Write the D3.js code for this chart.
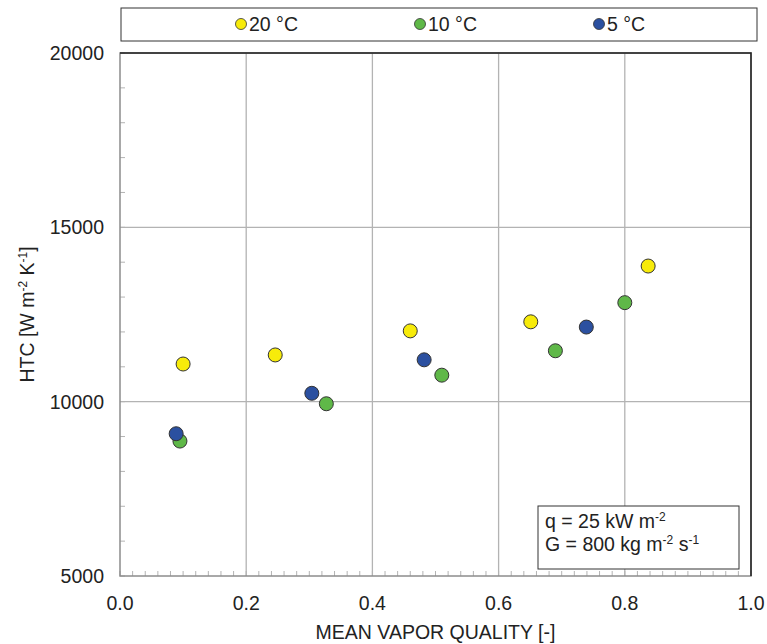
<!DOCTYPE html>
<html>
<head>
<meta charset="utf-8">
<script src="https://cdn.jsdelivr.net/npm/d3@7"></script>
<style>
  body { margin: 0; background: #fff; }
  text { font-family: "Liberation Sans", Arial, sans-serif; fill: #222; }
</style>
</head>
<body>
<div id="chart"></div>
<script>
// series
const seriesNames = ["20 °C", "10 °C", "5 °C"];
const seriesColors = ["#f7eb0a", "#5fb848", "#2b50a0"];

const x20 = [0.100, 0.246, 0.460, 0.651, 0.837];
const htc20 = [11080, 11340, 12030, 12290, 13890];

const x10 = [0.095, 0.327, 0.510, 0.690, 0.800];
const htc10 = [8870, 9940, 10760, 11460, 12840];

const x5 = [0.089, 0.304, 0.482, 0.739];
const htc5 = [9080, 10240, 11200, 12140];

const xTicks = [0, 0.2, 0.4, 0.6, 0.8, 1.0];
const yTicks = [5000, 10000, 15000, 20000];

const W = 767, H = 644;
const margin = { top: 53, right: 16, bottom: 68, left: 120 };
const width = 751 - margin.left;
const height = 576 - margin.top;
const fs = 19.5;

const svg = d3.select("#chart").append("svg")
  .attr("width", W).attr("height", H);

const x = d3.scaleLinear().domain([0, 1]).range([margin.left, margin.left + width]);
const y = d3.scaleLinear().domain([5000, 20000]).range([margin.top + height, margin.top]);

const grid = "#b3b3b3";

// grid lines
svg.append("g").selectAll("line.v")
  .data(xTicks.slice(1, -1))
  .enter().append("line")
  .attr("x1", d => x(d)).attr("x2", d => x(d))
  .attr("y1", y(20000)).attr("y2", y(5000))
  .attr("stroke", grid).attr("stroke-width", 1.3);

svg.append("g").selectAll("line.h")
  .data(yTicks.slice(1, -1))
  .enter().append("line")
  .attr("x1", x(0)).attr("x2", x(1))
  .attr("y1", d => y(d)).attr("y2", d => y(d))
  .attr("stroke", grid).attr("stroke-width", 1.3);

// minor ticks
const xMinor = d3.range(0, 1.0001, 0.02);
svg.append("g").selectAll("line")
  .data(xMinor)
  .enter().append("line")
  .attr("x1", d => x(d)).attr("x2", d => x(d))
  .attr("y1", y(5000)).attr("y2", y(5000) - 5)
  .attr("stroke", grid).attr("stroke-width", 1);

const yMinor = d3.range(5000, 20001, 1000);
svg.append("g").selectAll("line")
  .data(yMinor)
  .enter().append("line")
  .attr("x1", x(0)).attr("x2", x(0) + 5)
  .attr("y1", d => y(d)).attr("y2", d => y(d))
  .attr("stroke", grid).attr("stroke-width", 1);

// frame
svg.append("rect")
  .attr("x", x(0)).attr("y", y(20000))
  .attr("width", width).attr("height", height)
  .attr("fill", "none").attr("stroke", "#8c8c8c").attr("stroke-width", 1.5);
svg.append("path")
  .attr("d", `M${x(0)},${y(20000)}H${x(1)}V${y(5000)}`)
  .attr("fill", "none").attr("stroke", "#222").attr("stroke-width", 1.5);

// annotation box
const note = svg.append("g");
note.append("rect")
  .attr("x", 538).attr("y", 506).attr("width", 201).attr("height", 63)
  .attr("fill", "#fff").attr("stroke", "#333").attr("stroke-width", 1);
const t1 = note.append("text").attr("x", 545).attr("y", 528).attr("font-size", fs);
t1.append("tspan").text("q = 25 kW m");
t1.append("tspan").attr("baseline-shift", "super").attr("font-size", 12).text("-2");
const t2 = note.append("text").attr("x", 545).attr("y", 551).attr("font-size", fs);
t2.append("tspan").text("G = 800 kg m");
t2.append("tspan").attr("baseline-shift", "super").attr("font-size", 12).text("-2");
t2.append("tspan").text(" s");
t2.append("tspan").attr("baseline-shift", "super").attr("font-size", 12).text("-1");

// axis labels
svg.append("g").selectAll("text")
  .data(yTicks)
  .enter().append("text")
  .attr("x", 104).attr("y", d => y(d) + 7)
  .attr("text-anchor", "end").attr("font-size", fs)
  .text(d => d);

svg.append("g").selectAll("text")
  .data(xTicks)
  .enter().append("text")
  .attr("x", d => x(d)).attr("y", 610)
  .attr("text-anchor", "middle").attr("font-size", fs)
  .text(d => d3.format(".1f")(d));

svg.append("text")
  .attr("x", x(0.5)).attr("y", 639)
  .attr("text-anchor", "middle").attr("font-size", fs)
  .text("MEAN VAPOR QUALITY [-]");

const yl = svg.append("text")
  .attr("transform", `translate(34,${y(12500)}) rotate(-90)`)
  .attr("text-anchor", "middle").attr("font-size", fs);
yl.append("tspan").text("HTC [W m");
yl.append("tspan").attr("baseline-shift", "super").attr("font-size", 12).text("-2");
yl.append("tspan").text(" K");
yl.append("tspan").attr("baseline-shift", "super").attr("font-size", 12).text("-1");
yl.append("tspan").text("]");

// points
const series = [
  { xs: x20, ys: htc20 },
  { xs: x10, ys: htc10 },
  { xs: x5, ys: htc5 }
];
series.forEach((s, i) => {
  svg.append("g").selectAll("circle")
    .data(s.xs.map((v, j) => [v, s.ys[j]]))
    .enter().append("circle")
    .attr("cx", d => x(d[0])).attr("cy", d => y(d[1]))
    .attr("r", 7)
    .attr("fill", seriesColors[i])
    .attr("stroke", "#333").attr("stroke-width", 1);
});

// legend
const leg = svg.append("g");
leg.append("rect")
  .attr("x", 121).attr("y", 8).attr("width", 636).attr("height", 33)
  .attr("fill", "#fff").attr("stroke", "#333").attr("stroke-width", 1);
const legX = [241, 420, 599];
seriesNames.forEach((n, i) => {
  leg.append("circle").attr("cx", legX[i]).attr("cy", 24).attr("r", 5.5)
    .attr("fill", seriesColors[i]).attr("stroke", "#333").attr("stroke-width", 0.8);
  leg.append("text").attr("x", legX[i] + 8).attr("y", 31).attr("font-size", fs).text(n);
});
</script>
</body>
</html>
